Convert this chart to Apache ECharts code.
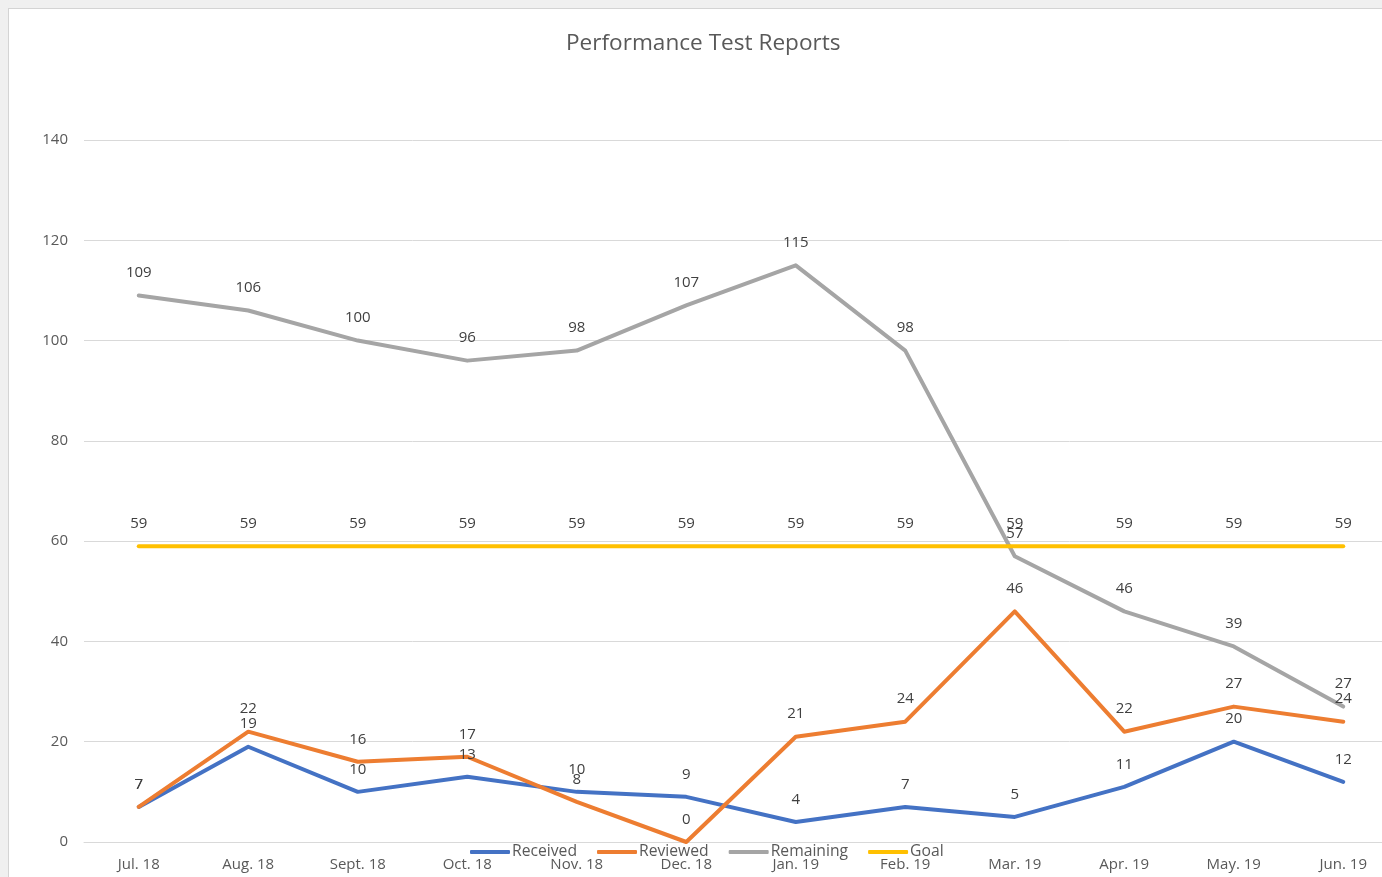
<!DOCTYPE html>
<html>
<head>
<meta charset="utf-8">
<script src="https://cdn.jsdelivr.net/npm/echarts@6/dist/echarts.min.js"></script>
<style>
  html, body { margin: 0; padding: 0; background: #f0f0f0; overflow: hidden; }
  #frame { position: absolute; left: 8px; top: 8px; width: 1400px; height: 900px; background: #fff; border: 1px solid #d4d4d4; }
  #main { position: absolute; left: 0; top: 0; width: 1398px; height: 877px; }
</style>
</head>
<body>
<div id="frame"></div>
<div id="main"></div>
<script>
// months on the x axis
const months = ['Jul. 18', 'Aug. 18', 'Sept. 18', 'Oct. 18', 'Nov. 18', 'Dec. 18',
  'Jan. 19', 'Feb. 19', 'Mar. 19', 'Apr. 19', 'May. 19', 'Jun. 19']
const received = [7, 19, 10, 13, 10, 9, 4, 7, 5, 11, 20, 12]
const reviewed = [7, 22, 16, 17, 8, 0, 21, 24, 46, 22, 27, 24]
const remaining = [109, 106, 100, 96, 98, 107, 115, 98, 57, 46, 39, 27]
const goal = [59, 59, 59, 59, 59, 59, 59, 59, 59, 59, 59, 59]

const font = '"Open Sans", sans-serif'

function lineSeries(name, data, color) {
  return {
    name: name,
    type: 'line',
    data: data,
    symbol: 'circle',
    symbolSize: 0,
    showSymbol: true,
    lineStyle: { width: 4, color: color, cap: 'round', join: 'round' },
    itemStyle: { color: color },
    label: {
      show: true,
      position: 'top',
      distance: 15,
      color: '#404040',
      fontSize: 15,
      fontFamily: font
    },
    emphasis: { disabled: true },
    animation: false
  }
}

const chart = echarts.init(document.getElementById('main'))
chart.setOption({
  animation: false,
  title: {
    text: 'Performance Test Reports',
    left: 561,
    top: 27,
    textStyle: { color: '#595959', fontSize: 22.6, fontWeight: 'normal', fontFamily: font }
  },
  legend: {
    bottom: 12,
    left: 465,
    itemWidth: 40,
    itemHeight: 4,
    itemGap: 20,
    icon: 'roundRect',
    textStyle: { color: '#595959', fontSize: 15.7, fontFamily: font, padding: [0, 0, 0, -3] },
    data: ['Received', 'Reviewed', 'Remaining', 'Goal']
  },
  grid: { left: 84, right: 0, top: 140, bottom: 35, containLabel: false },
  xAxis: {
    type: 'category',
    data: months,
    boundaryGap: true,
    axisLine: { lineStyle: { color: '#d9d9d9', width: 1 } },
    axisTick: { show: false },
    axisLabel: { color: '#595959', fontSize: 15, fontFamily: font, margin: 15, interval: 0 }
  },
  yAxis: {
    type: 'value',
    min: 0,
    max: 140,
    interval: 20,
    axisLine: { show: false },
    axisTick: { show: false },
    splitLine: { lineStyle: { color: '#d9d9d9', width: 1 } },
    axisLabel: { color: '#595959', fontSize: 15, fontFamily: font, margin: 16 }
  },
  series: [
    lineSeries('Received', received, '#4472c4'),
    lineSeries('Reviewed', reviewed, '#ed7d31'),
    lineSeries('Remaining', remaining, '#a5a5a5'),
    lineSeries('Goal', goal, '#ffc000')
  ]
})
</script>
</body>
</html>
